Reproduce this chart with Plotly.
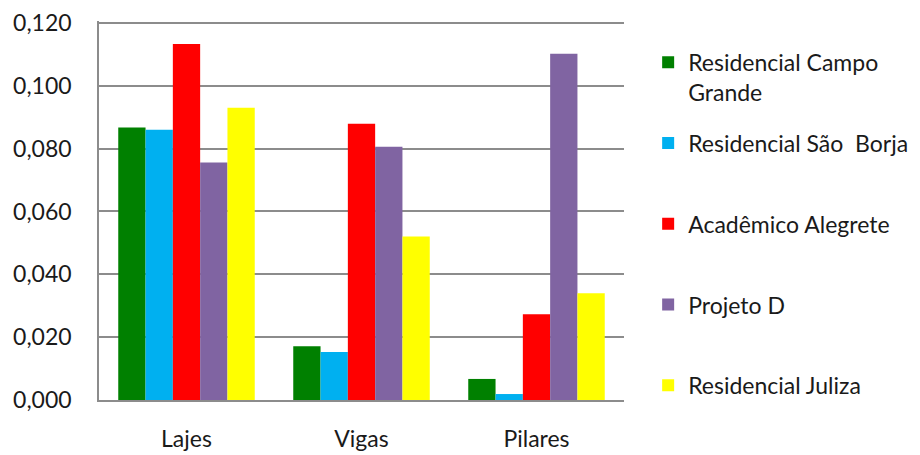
import plotly.graph_objects as go

categories = ["Lajes", "Vigas", "Pilares"]
series_names = ["Residencial Campo<br>Grande", "Residencial São  Borja<br> ", "Acadêmico Alegrete<br> ", "Projeto D<br> ", "Residencial Juliza<br> "]
campo_grande = [0.0867, 0.0171, 0.0067]
sao_borja = [0.0860, 0.0153, 0.0019]
academico = [0.1133, 0.0879, 0.0273]
projeto_d = [0.0756, 0.0806, 0.1102]
juliza = [0.0930, 0.0520, 0.0340]
colors = ["#008000", "#00B0F0", "#FF0000", "#8064A2", "#FFFF00"]
y_ticks = [0, 0.02, 0.04, 0.06, 0.08, 0.10, 0.12]

fig = go.Figure()
for i, (name, vals) in enumerate(zip(series_names, [campo_grande, sao_borja, academico, projeto_d, juliza])):
    fig.add_trace(go.Bar(x=categories, y=vals, name=name, marker_color=colors[i],
                         marker_line_width=0, legendgroup=str(i)))

fig.update_layout(
    width=912, height=447,
    paper_bgcolor="white", plot_bgcolor="white",
    margin=dict(l=91, r=296, t=13, b=55, autoexpand=False),
    barmode="group", bargap=0.22, bargroupgap=0,
    separators=",.",
    font=dict(family="Lato", size=23, color="#1a1a1a"),
    legend=dict(x=1.046, xanchor="left", xref="paper", y=0.948, yanchor="top",
                tracegroupgap=18, valign="top", font=dict(size=23),
                itemwidth=30, bgcolor="rgba(0,0,0,0)", maxheight=440),
    showlegend=True,
)
fig.update_yaxes(range=[0, 0.1206], tickvals=y_ticks, tickformat=".3f",
                 showgrid=True, gridcolor="#8c8c8c", gridwidth=1.5,
                 showline=True, linecolor="#8c8c8c", linewidth=1.5,
                 zeroline=False, ticks="", ticklen=0, automargin=False,
                 ticklabeloverflow="allow", ticklabelstandoff=21)
fig.update_xaxes(showline=True, linecolor="#8c8c8c", linewidth=1.5, ticks="",
                 showgrid=False, ticklabelstandoff=18, automargin=False,
                 ticklabeloverflow="allow")

fig.write_html("out.html")
